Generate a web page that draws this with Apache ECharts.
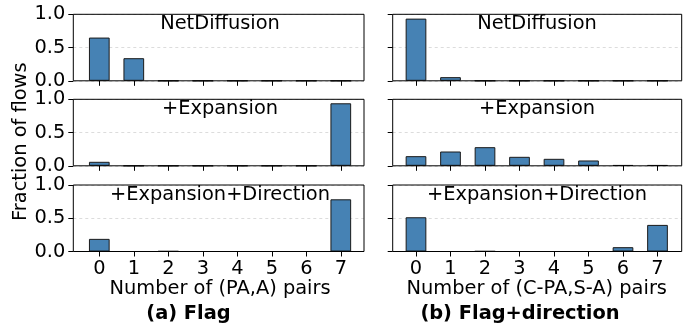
<!DOCTYPE html>
<html>
<head>
<meta charset="utf-8">
<script src="https://cdn.jsdelivr.net/npm/echarts@6/dist/echarts.min.js"></script>
<style>
html,body{margin:0;padding:0;background:#fff;}
#chart{width:693px;height:324px;}
</style>
</head>
<body>
<div id="chart"></div>
<script>
// ---- data ----
const categories = ['0', '1', '2', '3', '4', '5', '6', '7'];
const flagNetDiffusion = [0.65, 0.34, 0, 0, 0, 0, 0, 0];
const flagExpansion = [0.06, 0, 0, 0, 0, 0, 0, 0.94];
const flagExpansionDirection = [0.19, 0, 0.005, 0, 0, 0, 0, 0.785];
const dirNetDiffusion = [0.935, 0.055, 0, 0, 0, 0, 0, 0];
const dirExpansion = [0.145, 0.215, 0.28, 0.135, 0.105, 0.08, 0.01, 0.01];
const dirExpansionDirection = [0.515, 0, 0.005, 0, 0, 0, 0.065, 0.4];
const panelTitles = ['NetDiffusion', '+Expansion', '+Expansion+Direction'];
const xAxisNames = ['Number of (PA,A) pairs', 'Number of (C-PA,S-A) pairs'];
const subCaptions = ['(a) Flag', '(b) Flag+direction'];
const yAxisName = 'Fraction of flows';
const yMin = 0, yMax = 1, yInterval = 0.5;

const columns = [
  [flagNetDiffusion, flagExpansion, flagExpansionDirection],
  [dirNetDiffusion, dirExpansion, dirExpansionDirection]
];

// ---- layout ----
const FONT = 'DejaVu Sans';
const FS = 19.4;
const frameLeft = [73.3, 392.7];
const frameWidth = [290.7, 289];
const tick0 = [99.3, 416];
const spacing = 34.5;
const frameTop = [14.3, 99.3, 185];
const frameH = 66.5;
const titleCx = [220, 537];
const captionCx = [188.5, 520];

const grid = [], xAxis = [], yAxis = [], series = [], graphic = [];
let gi = 0;
for (let s = 0; s < 2; s++) {
  for (let p = 0; p < 3; p++) {
    // frame grid (border drawn above split lines and bars)
    grid.push({left: frameLeft[s], top: frameTop[p], width: frameWidth[s], height: frameH,
      show: true, borderColor: '#000', borderWidth: 1, backgroundColor: 'transparent', z: 6});
    xAxis.push({gridIndex: gi, type: 'value', min: 0, max: 1, show: false});
    yAxis.push({gridIndex: gi, type: 'value', min: yMin, max: yMax, interval: yInterval,
      axisLine: {show: false},
      axisTick: {show: true, length: 5, lineStyle: {color: '#000', width: 1}},
      axisLabel: {show: s === 0, margin: 8, color: '#000', fontFamily: FONT, fontSize: FS,
        formatter: v => v.toFixed(1)},
      splitLine: {show: true, lineStyle: {color: '#dcdcdc', type: [3, 3], width: 1}}
    });
    gi++;
    // data grid
    const dl = tick0[s] - spacing / 2;
    grid.push({left: dl, top: frameTop[p], width: spacing * 8, height: frameH});
    xAxis.push({gridIndex: gi, type: 'category', data: categories,
      axisLine: {show: false},
      axisTick: {show: true, alignWithLabel: true, length: 5, lineStyle: {color: '#000', width: 1}},
      axisLabel: {show: p === 2, margin: 8, color: '#000', fontFamily: FONT, fontSize: FS},
      name: p === 2 ? xAxisNames[s] : '', nameLocation: 'middle', nameGap: 27,
      nameTextStyle: {color: '#000', fontFamily: FONT, fontSize: FS}
    });
    yAxis.push({gridIndex: gi, type: 'value', min: yMin, max: yMax, show: false});
    series.push({type: 'bar', xAxisIndex: gi, yAxisIndex: gi, data: columns[s][p],
      barWidth: '60%', silent: true,
      itemStyle: {color: '#4682B4', borderColor: '#1a1a1a', borderWidth: 1}});
    gi++;
    graphic.push({type: 'text', x: titleCx[s], y: frameTop[p] + 9.5, z: 10,
      style: {text: panelTitles[p], fill: '#000', font: FS + 'px "' + FONT + '"',
        align: 'center', verticalAlign: 'middle'}});
  }
  graphic.push({type: 'text', x: captionCx[s], y: 313.5,
    style: {text: subCaptions[s], fill: '#000', font: 'bold ' + FS + 'px "' + FONT + '"',
      align: 'center', verticalAlign: 'middle'}});
}
graphic.push({type: 'text', x: 21, y: 141.7, rotation: Math.PI / 2,
  style: {text: yAxisName, fill: '#000', font: FS + 'px "' + FONT + '"',
    align: 'center', verticalAlign: 'middle'}});

const chart = echarts.init(document.getElementById('chart'), null, {renderer: 'canvas'});
chart.setOption({animation: false, backgroundColor: '#fff', grid, xAxis, yAxis, series, graphic});
</script>
</body>
</html>
